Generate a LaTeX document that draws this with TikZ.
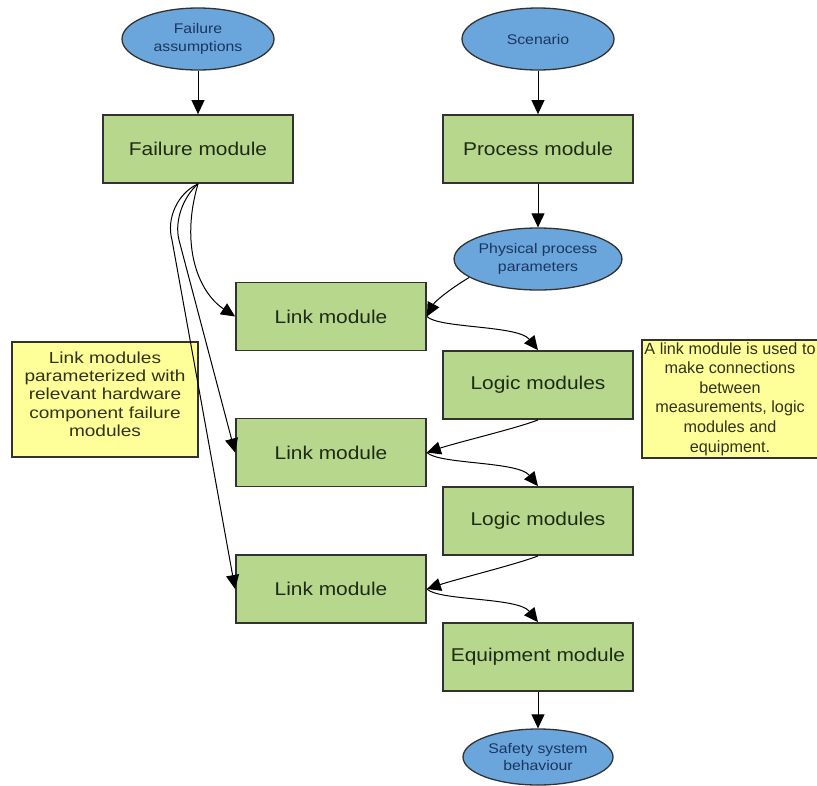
\documentclass[tikz,border=0pt]{standalone}
\usepackage{fontspec}
\setmainfont{Liberation Sans}[FakeStretch=1.13]
\newfontfamily\notewide{Liberation Sans}[FakeStretch=1.19]
\newfontfamily\notenarrow{Liberation Sans}
\usetikzlibrary{shapes.geometric,arrows.meta}
\definecolor{boxgreen}{RGB}{183,216,140}
\definecolor{ellblue}{RGB}{106,166,220}
\definecolor{noteyellow}{RGB}{255,255,153}
\definecolor{boxtext}{RGB}{30,42,20}
\definecolor{elltext}{RGB}{26,53,96}
\definecolor{notetext}{RGB}{50,50,24}
\definecolor{edgegray}{RGB}{50,50,50}
\begin{document}
\begin{tikzpicture}[x=1pt,y=-1pt,
  modbox/.style={rectangle, draw=edgegray, line width=1.8pt, fill=boxgreen,
    minimum width=190pt, minimum height=68pt, inner sep=0pt,
    text=boxtext, font=\fontsize{18.5}{22}\selectfont},
  ellnode/.style={ellipse, draw=edgegray, line width=1.3pt, fill=ellblue,
    minimum width=152pt, minimum height=62pt, inner sep=0pt, align=center,
    text=elltext, font=\fontsize{14}{17.5}\selectfont},
  notebox/.style={rectangle, draw=edgegray, line width=1.5pt, fill=noteyellow,
    inner sep=0pt, align=center, text=notetext},
  conn/.style={draw=black, line width=1pt, -{Triangle[length=14pt,width=13pt]}}
]
\useasboundingbox (0,0) rectangle (817,785);

% ellipses
\node[ellnode] (fa) at (198,39) {Failure\\assumptions};
\node[ellnode] (sc) at (538,39) {Scenario};
\node[ellnode, minimum width=155pt] (pp) at (538,259) {Physical process\\parameters};
\node[ellnode, minimum width=150pt, minimum height=56pt] (ss) at (538,757) {Safety system\\behaviour};

% module boxes
\node[modbox] (fm) at (198,149) {Failure module};
\node[modbox] (pm) at (538,149) {Process module};
\node[modbox] (l1) at (331,316.5) {Link module};
\node[modbox] (lg1) at (538,385) {Logic modules};
\node[modbox] (l2) at (331,452.5) {Link module};
\node[modbox] (lg2) at (538,521) {Logic modules};
\node[modbox] (l3) at (331,589) {Link module};
\node[modbox] (eq) at (538,657) {Equipment module};

% notes
\node[notebox, minimum width=186pt, minimum height=115pt] (n1) at (105,399.5) {};
\node[align=center, text=notetext, inner sep=0pt,
  font=\notewide\fontsize{16}{18.3}\selectfont] (n1t) at (105,394)
  {Link modules\\parameterized with\\relevant hardware\\component failure\\modules};
\node[notebox, minimum width=176pt, minimum height=118pt,
  font=\notenarrow\fontsize{16.2}{19.6}\selectfont] (n2) at (730,399)
  {A link module is used to\\make connections\\between\\measurements, logic\\modules and\\equipment.};

% straight connectors
\draw[conn] (fa.south) -- (fm.north);
\draw[conn] (sc.south) -- (pm.north);
\draw[conn] (pm.south) -- (pp.north);
\draw[conn] (eq.south) -- (ss.north);

% failure module fan-out
\coordinate (w2) at (179,240);
\coordinate (w3) at (172,240);
\draw[conn] (fm.south) .. controls (180,245) and (198,292) .. (l1.west);
\draw[conn] (fm.south) .. controls (184,196) and (174,220) .. (w2) -- (l2.west);
\draw[conn] (fm.south) .. controls (178,193) and (166,218) .. (w3) -- (l3.west);

% process chain
\draw[conn] (pp.195) .. controls +(-20,12) and +(8,-15) .. (l1.east);
\draw[conn] (l1.east) .. controls +(12,12) and +(-20,-25) .. (lg1.north);
\draw[conn] (lg1.south) .. controls +(-20,8) and +(30,-10) .. (l2.east);
\draw[conn] (l2.east) .. controls +(12,12) and +(-20,-25) .. (lg2.north);
\draw[conn] (lg2.south) .. controls +(-20,8) and +(30,-10) .. (l3.east);
\draw[conn] (l3.east) .. controls +(12,12) and +(-20,-25) .. (eq.north);
\end{tikzpicture}
\end{document}
